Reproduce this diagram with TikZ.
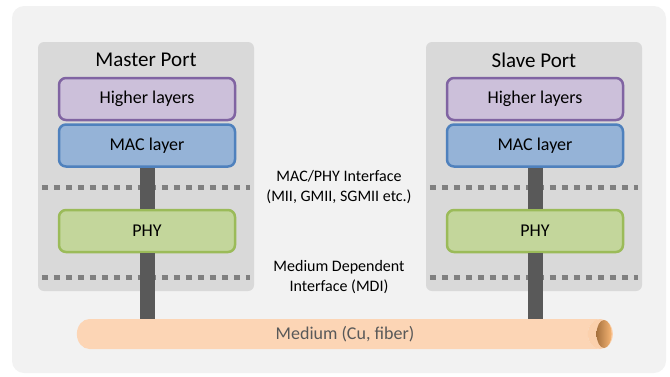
\documentclass[tikz,border=0pt]{standalone}
\usepackage{fontspec}
\setmainfont{Carlito}
\usetikzlibrary{positioning}
\usetikzlibrary{shapes.geometric}

\definecolor{outerbg}{HTML}{F2F2F2}
\definecolor{portgray}{HTML}{D9D9D9}
\definecolor{hlfill}{HTML}{CCC0DA}
\definecolor{hlborder}{HTML}{8064A2}
\definecolor{macfill}{HTML}{95B3D7}
\definecolor{macborder}{HTML}{4F81BD}
\definecolor{phyfill}{HTML}{C3D69B}
\definecolor{phyborder}{HTML}{9BBB59}
\definecolor{sepgray}{HTML}{808080}
\definecolor{bargray}{HTML}{595959}
\definecolor{medfill}{HTML}{FCD5B5}
\definecolor{medrim}{HTML}{FBD0AC}
\definecolor{medshade}{HTML}{A8733F}
\definecolor{medlight}{HTML}{F6B574}

\begin{document}
\begin{tikzpicture}[x=1pt,y=-1pt]
            \tikzset{port/.style={fill=portgray, rounded corners=6pt, minimum width=216pt, minimum height=249pt, inner sep=0pt}};
            \tikzset{layer/.style={rounded corners=7pt, line width=2.5pt, minimum width=176pt, minimum height=42pt, font=\fontsize{18}{20}\selectfont}};
            \tikzset{higher/.style={layer, draw=hlborder, fill=hlfill}};
            \tikzset{mac/.style={layer, draw=macborder, fill=macfill}};
            \tikzset{phy/.style={layer, draw=phyborder, fill=phyfill}};
            \tikzset{sep/.style={line width=5pt, draw=sepgray, dash pattern=on 6pt off 6pt, shorten <=4pt, shorten >=4pt}};
            \tikzset{bar/.style={line width=15pt, draw=bargray}};
            \tikzset{note/.style={align=center, font=\fontsize{16}{20}\selectfont}};
            \tikzset{title/.style={font=\fontsize{21}{24}\selectfont}};
            \tikzset{medtext/.style={text=bargray, font=\fontsize{18}{20}\selectfont}};
            
            \useasboundingbox (0,0) rectangle (670,376);
            \fill[outerbg, rounded corners=12pt] (12,6) rectangle (666,373);
            
            \node[port] (mport) at (146,166.5) {};
            \node[port] (sport) at (534,166.5) {};
            \node[title] (mtitle) at (146,60) {Master Port};
            \node[title] (stitle) at (534,60) {Slave Port};
            
            \node[note] (mii) at (339,187) {MAC/PHY Interface\\(MII, GMII, SGMII etc.)};
            \node[note] (mdi) at (339,277) {Medium Dependent\\Interface (MDI)};
            
            \draw[sep] (mport.west |- mii) -- (mport.east |- mii);
            \draw[sep] (mport.west |- mdi) -- (mport.east |- mdi);
            \draw[sep] (sport.west |- mii) -- (sport.east |- mii);
            \draw[sep] (sport.west |- mdi) -- (sport.east |- mdi);
            
            \node[higher] (mhigher) at (147,99) {Higher layers};
            \node[mac, below=2pt of mhigher] (mmac) {MAC layer};
            \node[phy] (mphy) at (147,231) {PHY};
            
            \node[higher] (shigher) at (535,99) {Higher layers};
            \node[mac, below=2pt of shigher] (smac) {MAC layer};
            \node[phy] (sphy) at (535,231) {PHY};
            
            \node[cylinder, shape border rotate=0, aspect=1.6, minimum height=536pt, minimum width=30pt, inner sep=0pt,
                  cylinder uses custom fill, cylinder body fill=medfill, cylinder end fill=medrim, medtext] (medium) at (338.5,334) {\phantom{Medium (Cu, fiber)}};
            \shade[left color=medshade, right color=medlight] ([xshift=-9pt]medium.east) ellipse (7.5 and 14);
            \node[medtext] (mlabel) at (345,334) {Medium (Cu, fiber)};
            
            \draw[bar] (mmac.south) -- (mphy.north);
            \draw[bar] (mphy.south) -- (mphy.south |- medium.north);
            \draw[bar] (smac.south) -- (sphy.north);
            \draw[bar] (sphy.south) -- (sphy.south |- medium.north);
\end{tikzpicture}
\end{document}
